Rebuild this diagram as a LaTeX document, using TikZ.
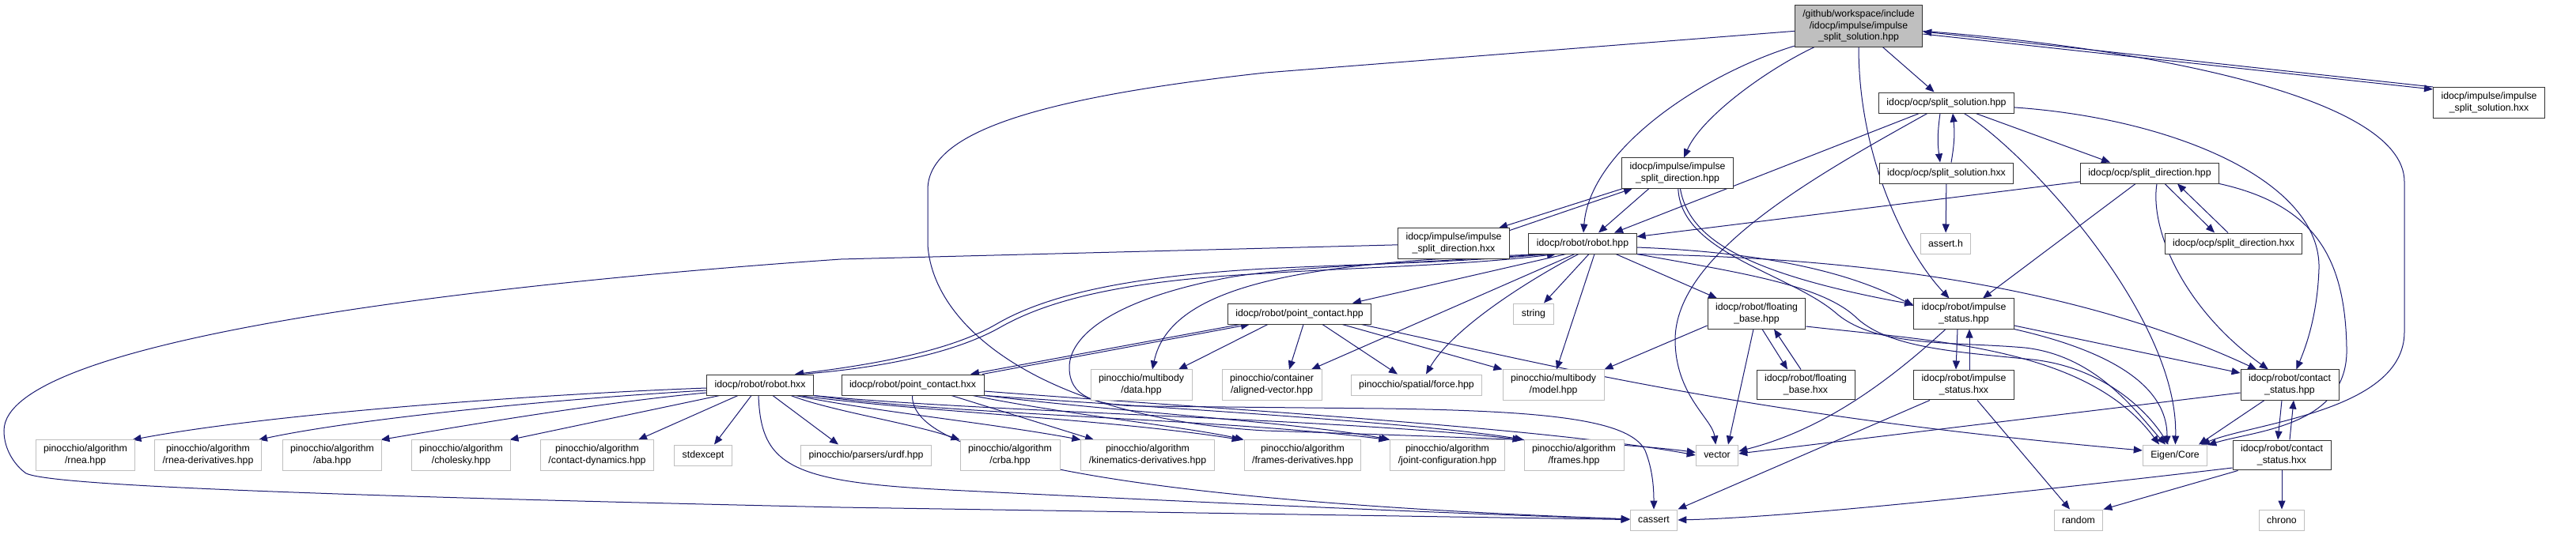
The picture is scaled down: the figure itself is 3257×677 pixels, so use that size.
\documentclass[tikz,border=0pt]{standalone}
\usepackage{fontspec}
\setmainfont{Liberation Sans}
\usepackage{tikz}
\usetikzlibrary{arrows.meta,backgrounds}
\definecolor{EdgeBlue}{HTML}{191970}
\definecolor{ExtGray}{HTML}{BFBFBF}

\begin{document}
\begin{tikzpicture}[
  x=1pt,y=-1pt,
  box/.style={draw=black!80,line width=1pt,fill=white,align=center,inner xsep=10pt,inner ysep=6pt,minimum height=26pt,font=\fontsize{12.3}{14.6}\selectfont},
  ext/.style={box,draw=ExtGray,line width=1pt},
  arr/.style={-{Triangle[length=11pt,width=9pt]},draw=EdgeBlue,line width=1pt}
]
\useasboundingbox (0,0) rectangle (3257,677);
\node[box,fill=ExtGray] (ms) at (2350,33) {/github/workspace/include\\/idocp/impulse/impulse\\\_split\_solution.hpp};
\node[box] (msx) at (3147,130) {idocp/impulse/impulse\\\_split\_solution.hxx};
\node[box] (ss) at (2461,130) {idocp/ocp/split\_solution.hpp};
\node[box] (ssx) at (2461,219) {idocp/ocp/split\_solution.hxx};
\node[ext] (assert) at (2460,308) {assert.h};
\node[box] (sd) at (2718,219) {idocp/ocp/split\_direction.hpp};
\node[box] (sdx) at (2824,308) {idocp/ocp/split\_direction.hxx};
\node[box] (isd) at (2121,219) {idocp/impulse/impulse\\\_split\_direction.hpp};
\node[box] (isdx) at (1838,308) {idocp/impulse/impulse\\\_split\_direction.hxx};
\node[box] (rhpp) at (2001,308) {idocp/robot/robot.hpp};
\node[box] (pc) at (1643,397) {idocp/robot/point\_contact.hpp};
\node[ext] (string) at (1939,397) {string};
\node[box] (fb) at (2221,397) {idocp/robot/floating\\\_base.hpp};
\node[box] (ist) at (2483,397) {idocp/robot/impulse\\\_status.hpp};
\node[box] (rhxx) at (961,487) {idocp/robot/robot.hxx};
\node[box] (pcx) at (1154,487) {idocp/robot/point\_contact.hxx};
\node[ext] (data) at (1443,487) {pinocchio/multibody\\/data.hpp};
\node[ext] (aligned) at (1608,487) {pinocchio/container\\/aligned-vector.hpp};
\node[ext] (force) at (1791,487) {pinocchio/spatial/force.hpp};
\node[ext] (model) at (1964,487) {pinocchio/multibody\\/model.hpp};
\node[box] (fbx) at (2283,487) {idocp/robot/floating\\\_base.hxx};
\node[box] (istx) at (2483,487) {idocp/robot/impulse\\\_status.hxx};
\node[box] (cst) at (2895,487) {idocp/robot/contact\\\_status.hpp};
\node[ext] (rnea) at (108,576) {pinocchio/algorithm\\/rnea.hpp};
\node[ext] (rnead) at (263,576) {pinocchio/algorithm\\/rnea-derivatives.hpp};
\node[ext] (aba) at (420,576) {pinocchio/algorithm\\/aba.hpp};
\node[ext] (chol) at (583,576) {pinocchio/algorithm\\/cholesky.hpp};
\node[ext] (cdyn) at (755,576) {pinocchio/algorithm\\/contact-dynamics.hpp};
\node[ext] (stdexc) at (889,576) {stdexcept};
\node[ext] (urdf) at (1095,576) {pinocchio/parsers/urdf.hpp};
\node[ext] (crba) at (1277,576) {pinocchio/algorithm\\/crba.hpp};
\node[ext] (kin) at (1451,576) {pinocchio/algorithm\\/kinematics-derivatives.hpp};
\node[ext] (fder) at (1647,576) {pinocchio/algorithm\\/frames-derivatives.hpp};
\node[ext] (jconf) at (1830,576) {pinocchio/algorithm\\/joint-configuration.hpp};
\node[ext] (frames) at (1990,576) {pinocchio/algorithm\\/frames.hpp};
\node[ext] (vec) at (2171,576) {vector};
\node[ext] (eig) at (2750,576) {Eigen/Core};
\node[box] (cstx) at (2885,576) {idocp/robot/contact\\\_status.hxx};
\node[ext] (cassert) at (2091,658) {cassert};
\node[ext] (random) at (2628,658) {random};
\node[ext] (chrono) at (2885,658) {chrono};

\begin{scope}[on background layer]
% impulse_split_solution.hpp
\draw[arr] (ms) -- (ss);
\draw[arr] (ms) .. controls (2230,90) and (2150,150) .. (isd);
\draw[arr] (ms) .. controls (2150,95) and (2010,190) .. (rhpp);
\draw[arr] (ms) .. controls (2350,200) and (2410,320) .. (ist);
\draw[arr] (ms) -- (1600,92) .. controls (1300,125) and (1173,170) .. (1173,240) -- (1173,310) .. controls (1180,420) and (1330,530) .. (1600,545) .. controls (1900,555) and (2050,560) .. (vec);
\draw[arr] (ms) .. controls (2700,60) and (3040,120) .. (3040,230) -- (3040,420) .. controls (3040,520) and (2850,535) .. (eig);
\draw[arr] ([yshift=-10pt]ms.east) -- ([yshift=17pt]msx.west);
\draw[arr] ([yshift=20pt]msx.west) -- ([yshift=-7pt]ms.east);
% split_solution
\draw[arr] (ss) -- ([xshift=40pt]rhpp.north);
\draw[arr] (ss) .. controls (2300,220) and (2118,320) .. (2118,430) .. controls (2118,500) and (2165,530) .. (vec);
\draw[arr] ([xshift=-8pt]ss.south) to[bend right=8] ([xshift=-8pt]ssx.north);
\draw[arr] ([xshift=6pt]ssx.north) to[bend right=8] ([xshift=8pt]ss.south);
\draw[arr] (ss) .. controls (2560,190) and (2755,400) .. (eig);
\draw[arr] (ss) -- ([xshift=-50pt]sd.north);
\draw[arr] (ss) .. controls (2750,150) and (2935,230) .. (2932,340) .. controls (2930,400) and (2915,440) .. (cst);
\draw[arr] (ssx) -- (assert);
% split_direction
\draw[arr] (sd) -- (rhpp);
\draw[arr] (sd) -- ([xshift=24pt]ist.north);
\draw[arr] ([xshift=9pt]sd.south) .. controls (2718,290) and (2760,390) .. (cst);
\draw[arr] ([xshift=19pt]sd.south) -- ([xshift=-24pt]sdx.north);
\draw[arr] ([xshift=-7pt]sdx.north) -- ([xshift=35pt]sd.south);
\draw[arr] (sd.south east) .. controls (2930,260) and (2965,330) .. (2967,440) .. controls (2970,540) and (2850,545) .. (eig);
% impulse_split_direction
\draw[arr] ([xshift=2pt]isd.south west) -- ([xshift=-14pt]isdx.north east);
\draw[arr] ([yshift=-3pt]isdx.north east) -- ([xshift=14pt]isd.south west);
\draw[arr] ([xshift=-36pt]isd.south) -- ([xshift=20pt]rhpp.north);
\draw[arr] (isd) .. controls (2135,300) and (2200,345) .. (ist);
\draw[arr] (isd) .. controls (2125,320) and (2260,345) .. (2320,395) .. controls (2370,440) and (2470,432) .. (2560,440) .. controls (2650,450) and (2700,520) .. (eig);
\draw[arr] (isdx) -- (1063,328) .. controls (600,360) and (5,430) .. (5,545) .. controls (5,570) and (20,590) .. (33,599) .. controls (60,612) and (300,625) .. (1063,642) -- (cassert);
% robot.hpp
\draw[arr] ([xshift=-44pt]rhpp.south) .. controls (1850,332) and (1720,334) .. (1600,340) .. controls (1420,350) and (1320,375) .. (1260,410) .. controls (1200,445) and (1100,462) .. ([xshift=44pt]rhxx.north);
\draw[arr] ([xshift=52pt]rhxx.north) .. controls (1110,466) and (1205,448) .. (1265,414) .. controls (1325,380) and (1420,355) .. (1600,346) .. controls (1720,338) and (1850,336) .. ([xshift=-34pt]rhpp.south);
\draw[arr] ([xshift=-21pt]rhpp.south) -- ([xshift=67pt]pc.north);
\draw[arr] ([xshift=-38pt]rhpp.south) .. controls (1650,330) and (1480,360) .. ([xshift=14pt]data.north);
\draw[arr] ([xshift=-10pt]rhpp.south) -- ([xshift=50pt]aligned.north);
\draw[arr] ([xshift=-5pt]rhpp.south) .. controls (1950,345) and (1840,410) .. ([xshift=12pt]force.north);
\draw[arr] ([xshift=8pt]rhpp.south) -- ([xshift=13pt]string.north);
\draw[arr] ([xshift=15pt]rhpp.south) -- ([xshift=4pt]model.north);
\draw[arr] ([xshift=42pt]rhpp.south) -- ([xshift=-50pt]fb.north);
\draw[arr] ([yshift=-5pt]rhpp.east) .. controls (2250,320) and (2350,350) .. ([yshift=10pt]ist.west);
\draw[arr] (rhpp.south east) .. controls (2250,325) and (2580,340) .. (cst);
\draw[arr] (rhpp.south east) .. controls (2200,345) and (2300,360) .. (2345,400) .. controls (2385,440) and (2470,445) .. (2570,455) .. controls (2660,465) and (2715,520) .. (eig);
\draw[arr] ([xshift=-50pt]rhpp.south) .. controls (1800,333) and (1650,336) .. (1560,350) .. controls (1420,375) and (1352,420) .. (1352,465) .. controls (1352,500) and (1380,514) .. (1450,514) -- (1750,517) .. controls (1950,520) and (2060,530) .. (2080,570) .. controls (2090,595) and (2091,620) .. (cassert);
% point_contact.hpp
\draw[arr] ([xshift=-75pt]pc.south) -- ([xshift=73pt]pcx.north);
\draw[arr] ([xshift=88pt]pcx.north) -- ([xshift=-63pt]pc.south);
\draw[arr] ([xshift=-40pt]pc.south) -- ([xshift=47pt]data.north);
\draw[arr] ([xshift=5pt]pc.south) -- ([xshift=22pt]aligned.north);
\draw[arr] ([xshift=29pt]pc.south) -- ([xshift=-24pt]force.north);
\draw[arr] ([xshift=54pt]pc.south) -- (model.north west);
\draw[arr] ([xshift=-13pt]pc.south east) .. controls (1950,460) and (2200,525) .. ([yshift=6pt]eig.west);
% point_contact.hxx
\draw[arr] ([xshift=49pt]pcx.south) -- ([xshift=-68pt]kin.north);
\draw[arr] ([xshift=76pt]pcx.south) .. controls (1350,525) and (1500,540) .. (fder.north west);
\draw[arr] ([xshift=92pt]pcx.south) .. controls (1400,520) and (1650,535) .. (jconf.north west);
\draw[arr] (pcx.south east) .. controls (1450,515) and (1800,535) .. (frames.north west);
\draw[arr] ([yshift=-8pt]pcx.east) .. controls (1500,515) and (1950,540) .. (vec.west);
\draw[arr] (pcx) .. controls (1150,600) and (1600,640) .. (cassert);
% robot.hxx
\draw[arr] ([yshift=-4pt]rhxx.west) .. controls (700,498) and (350,522) .. ([xshift=-4pt]rnea.north east);
\draw[arr] ([yshift=-7pt]rhxx.west) .. controls (700,505) and (450,530) .. ([xshift=-4pt]rnead.north east);
\draw[arr] ([yshift=-10pt]rhxx.west) .. controls (750,510) and (550,545) .. ([xshift=-2pt]aba.north east);
\draw[arr] ([xshift=-51pt]rhxx.south) -- ([xshift=-2pt]chol.north east);
\draw[arr] ([xshift=-28pt]rhxx.south) -- ([xshift=52pt]cdyn.north);
\draw[arr] ([xshift=-11pt]rhxx.south) -- ([xshift=14pt]stdexc.north);
\draw[arr] ([xshift=16pt]rhxx.south) -- ([xshift=-35pt]urdf.north);
\draw[arr] ([xshift=39pt]rhxx.south) .. controls (1050,520) and (1150,535) .. (crba.north west);
\draw[arr] ([xshift=45pt]rhxx.south) .. controls (1100,520) and (1250,535) .. (kin.north west);
\draw[arr] ([xshift=50pt]rhxx.south) .. controls (1150,520) and (1400,530) .. ([xshift=-4pt]fder.north west);
\draw[arr] (rhxx.south east) .. controls (1200,525) and (1550,530) .. ([xshift=-3pt]jconf.north west);
\draw[arr] (rhxx.south east) .. controls (1250,522) and (1700,530) .. ([xshift=-3pt]frames.north west);
\draw[arr] ([xshift=-2pt]rhxx.south) .. controls (962,590) and (1000,610) .. (1200,620) .. controls (1600,640) and (1900,652) .. (cassert);
% floating_base
\draw[arr] ([xshift=7pt]fb.south) -- ([xshift=-23pt]fbx.north);
\draw[arr] ([xshift=-6pt]fbx.north) -- ([xshift=22pt]fb.south);
\draw[arr] ([xshift=-4pt]fb.south) -- ([xshift=14pt]vec.north);
\draw[arr] ([yshift=-15pt]fb.west) -- (model.north east);
\draw[arr] ([yshift=-16pt]fb.east) .. controls (2450,432) and (2640,440) .. ([xshift=-20pt]eig.north);
% impulse_status
\draw[arr] ([xshift=-8pt]ist.south) -- ([xshift=-10pt]istx.north);
\draw[arr] ([xshift=7pt]istx.north) -- ([xshift=7pt]ist.south);
\draw[arr] ([xshift=-23pt]ist.south) .. controls (2380,490) and (2300,545) .. ([yshift=5pt]vec.east);
\draw[arr] (ist.south east) .. controls (2650,440) and (2740,480) .. ([xshift=-10pt]eig.north);
\draw[arr] ([yshift=-15pt]ist.east) -- ([yshift=15pt]cst.west);
\draw[arr] ([xshift=-43pt]istx.south) -- (cassert.north east);
\draw[arr] ([xshift=17pt]istx.south) -- ([xshift=-11pt]random.north);
% contact_status
\draw[arr] ([xshift=-10pt]cst.south) -- ([xshift=-5pt]cstx.north);
\draw[arr] ([xshift=10pt]cstx.north) -- ([xshift=5pt]cst.south);
\draw[arr] ([xshift=-32pt]cst.south) -- ([xshift=30pt]eig.north);
\draw[arr] ([yshift=-10pt]cst.west) -- ([yshift=2pt]vec.east);
\draw[arr] (cstx) -- (chrono);
\draw[arr] ([xshift=7pt]cstx.south west) -- (random.north east);
\draw[arr] ([yshift=-16pt]cstx.west) .. controls (2500,630) and (2250,655) .. (cassert.east);
\end{scope}
\end{tikzpicture}
\end{document}
